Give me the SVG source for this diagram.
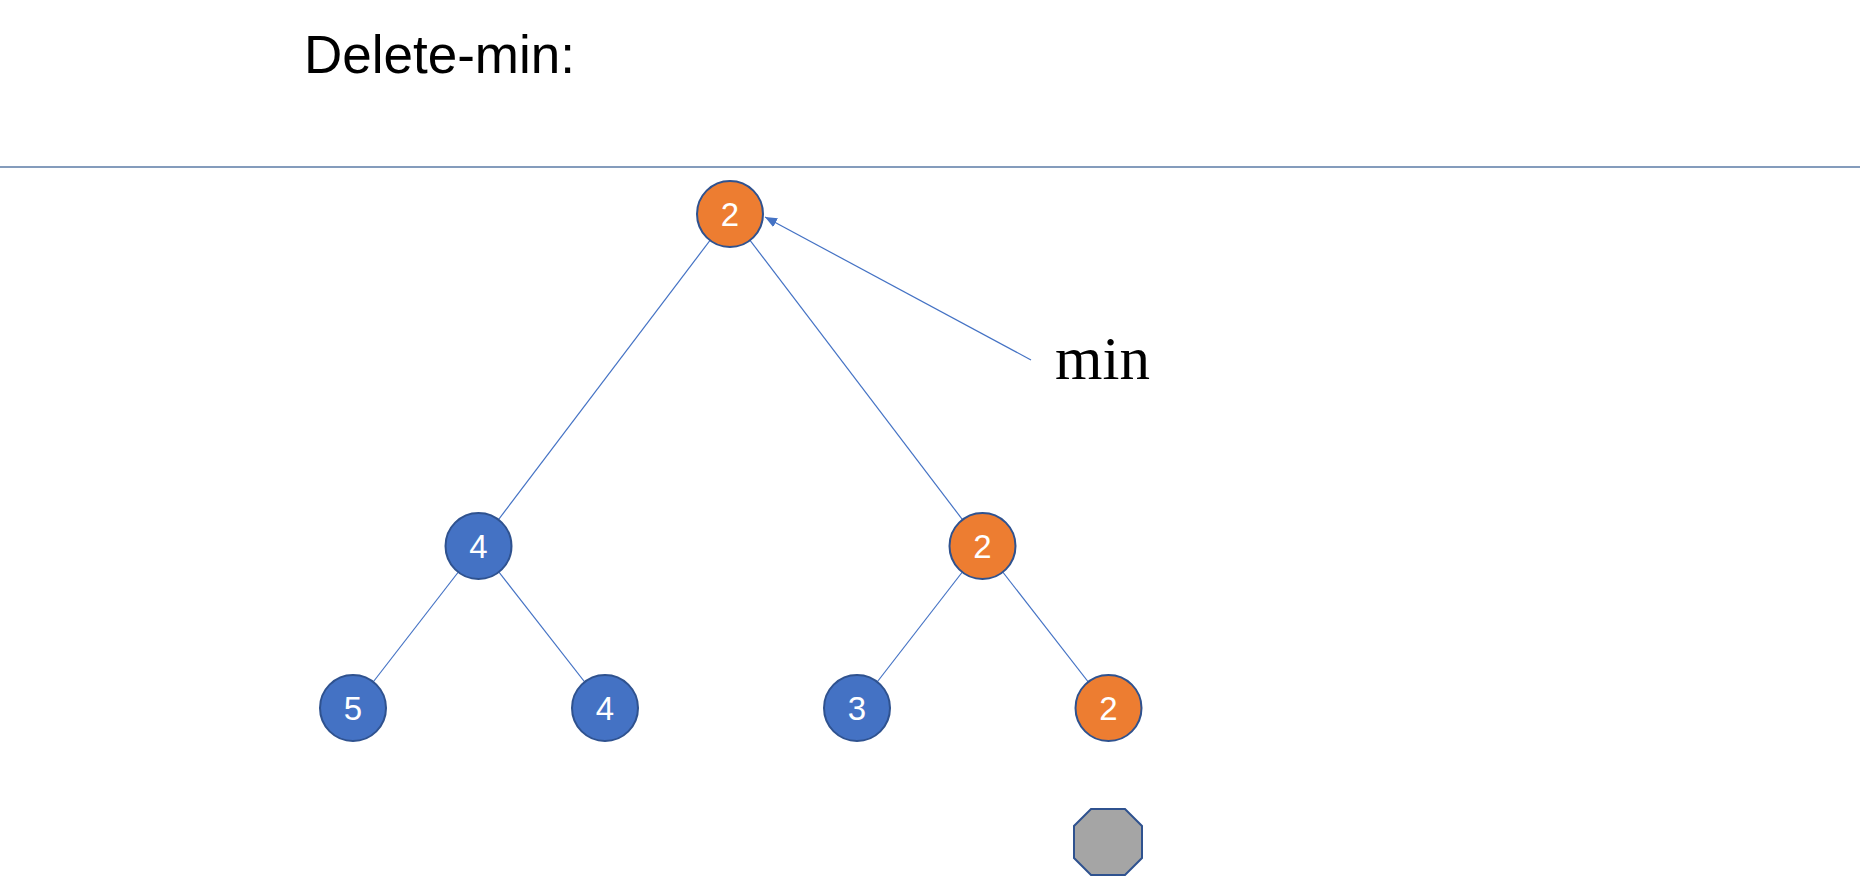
<svg xmlns="http://www.w3.org/2000/svg" width="1860" height="876" viewBox="0 0 1860 876">
<style>
.n circle{stroke:#2F528F;stroke-width:2}
.b circle{fill:#4472C4}
.o circle{fill:#ED7D31}
.n text{fill:#fff;font-family:"Liberation Sans",Arial,sans-serif;font-size:33px;text-anchor:middle}
.e line{stroke:#4472C4;stroke-width:1.2}
</style>
<defs>
<marker id="ah" viewBox="0 0 12 10" refX="12" refY="5" markerWidth="12" markerHeight="10" markerUnits="userSpaceOnUse" orient="auto">
<path d="M0,0 L12,5 L0,10 z" fill="#4472C4"/>
</marker>
</defs>
<rect width="1860" height="876" fill="#fff"/>
<text x="304" y="73" font-family="Liberation Sans,Arial,sans-serif" font-size="53" fill="#000">Delete-min:</text>
<line x1="0" y1="167" x2="1860" y2="167" stroke="#5B7BA6" stroke-width="1.5"/>
<g id="connectors" class="e">
<line x1="730" y1="214" x2="478.5" y2="546"/>
<line x1="730" y1="214" x2="982.5" y2="546"/>
<line x1="478.5" y1="546" x2="353" y2="708"/>
<line x1="478.5" y1="546" x2="605" y2="708"/>
<line x1="982.5" y1="546" x2="857" y2="708"/>
<line x1="982.5" y1="546" x2="1108.5" y2="708"/>
<line x1="1031" y1="360" x2="765" y2="217" marker-end="url(#ah)"/>
</g>
<g id="root" class="n o"><circle cx="730" cy="214" r="33"/><text x="730" y="226">2</text></g>
<g id="n4a" class="n b"><circle cx="478.5" cy="546" r="33"/><text x="478.5" y="558">4</text></g>
<g id="n2a" class="n o"><circle cx="982.5" cy="546" r="33"/><text x="982.5" y="558">2</text></g>
<g id="n5" class="n b"><circle cx="353" cy="708" r="33"/><text x="353" y="720">5</text></g>
<g id="n4b" class="n b"><circle cx="605" cy="708" r="33"/><text x="605" y="720">4</text></g>
<g id="n3" class="n b"><circle cx="857" cy="708" r="33"/><text x="857" y="720">3</text></g>
<g id="n2b" class="n o"><circle cx="1108.5" cy="708" r="33"/><text x="1108.5" y="720">2</text></g>
<g id="stop"><polygon points="1091,809 1125,809 1142,826 1142,858 1125,875 1091,875 1074,858 1074,826" fill="#A5A5A5" stroke="#2F528F" stroke-width="2"/></g>
<g id="minlabel"><text x="1055" y="379" font-family="Liberation Serif,Times New Roman,serif" font-size="61" fill="#000">min</text></g>
</svg>
